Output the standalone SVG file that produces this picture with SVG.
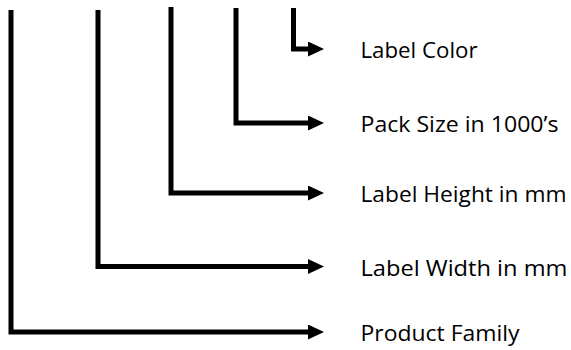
<svg xmlns="http://www.w3.org/2000/svg" width="571" height="350" viewBox="0 0 571 350">
  <style>
    .conn { fill: none; stroke: #000; stroke-width: 5; stroke-linejoin: miter; stroke-linecap: butt; }
    .lbl { font-family: "Open Sans", "Liberation Sans", Arial, sans-serif; font-size: 21.5px; fill: #000; }
  </style>
  <defs>
    <marker id="arr" viewBox="0 0 16 15" refX="0" refY="7.5" markerWidth="16" markerHeight="15" markerUnits="userSpaceOnUse" orient="auto">
      <path d="M0,0 L16,7.5 L0,15 z" fill="#000"/>
    </marker>
  </defs>
  <rect width="571" height="350" fill="#fff"/>
  <g id="connectors">
    <path class="conn" d="M11,10 V332 H308" marker-end="url(#arr)"/>
    <path class="conn" d="M98,10 V266.5 H308" marker-end="url(#arr)"/>
    <path class="conn" d="M171,7 V193 H308" marker-end="url(#arr)"/>
    <path class="conn" d="M236,8 V123 H308" marker-end="url(#arr)"/>
    <path class="conn" d="M293.5,8 V49 H308" marker-end="url(#arr)"/>
  </g>
  <g id="label-color"><text class="lbl" x="360.5" y="58" textLength="117" lengthAdjust="spacingAndGlyphs">Label Color</text></g>
  <g id="pack-size"><text class="lbl" x="360.5" y="132" textLength="198" lengthAdjust="spacingAndGlyphs">Pack Size in 1000’s</text></g>
  <g id="label-height"><text class="lbl" x="360.5" y="202" textLength="206" lengthAdjust="spacingAndGlyphs">Label Height in mm</text></g>
  <g id="label-width"><text class="lbl" x="360.5" y="275.5" textLength="207" lengthAdjust="spacingAndGlyphs">Label Width in mm</text></g>
  <g id="product-family"><text class="lbl" x="360.5" y="341" textLength="159" lengthAdjust="spacingAndGlyphs">Product Family</text></g>
</svg>
